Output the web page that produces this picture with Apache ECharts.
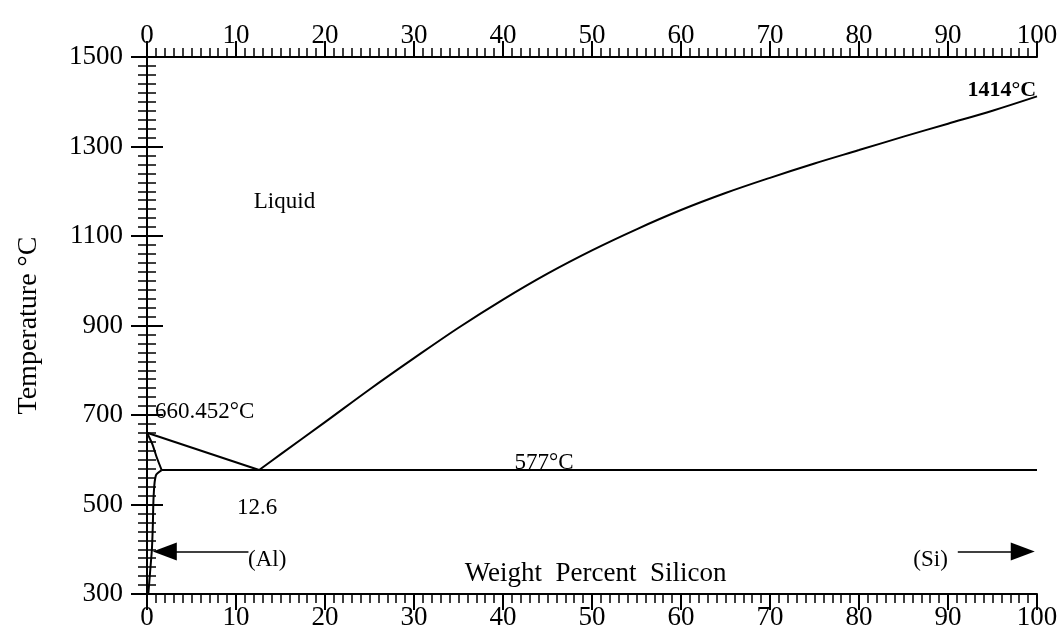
<!DOCTYPE html>
<html><head><meta charset="utf-8">
<script src="https://cdn.jsdelivr.net/npm/echarts@6/dist/echarts.min.js"></script>
<style>html,body{margin:0;padding:0;background:#fff}#c{width:1063px;height:639px}</style>
</head><body><div id="c"></div>
<script>
// Data (weight % Si, temperature °C)
const liquidusAl = [[0, 660.452], [12.6, 577]];
const liquidusSi = [[12.6, 577], [15, 612], [20, 684], [25, 757], [30, 827], [35, 895], [40, 958], [45, 1016], [50, 1068], [55, 1115], [60, 1158], [65, 1196], [70, 1230], [75, 1262], [80, 1292], [85, 1322], [90, 1351], [95, 1380], [100, 1412]];
const eutectic = [[1.65, 577], [100, 577]];
const solidusAl = [[0, 660.452], [0.6, 635], [1.1, 605], [1.65, 577]];
const solvusAl = [[1.65, 577], [1.0, 565], [0.75, 520], [0.65, 450], [0.55, 400], [0.35, 350], [0.15, 300]];
const xRange = [0, 100];
const yRange = [300, 1500];

const FONT = 'Liberation Serif';
const chart = echarts.init(document.getElementById('c'), null, {renderer: 'canvas'});

function lineSeries(data, smooth) {
  return {type: 'line', data: data, showSymbol: false, symbol: 'none', smooth: smooth,
    lineStyle: {color: '#000', width: 2}, silent: true, animation: false};
}
const axisLineStyle = {show: true, lineStyle: {color: '#000', width: 2}};
const plain = v => String(v);

const option = {
  animation: false,
  backgroundColor: '#fff',
  grid: {left: 147, right: 26, top: 57, bottom: 45},
  xAxis: [
    {type: 'value', position: 'bottom', min: xRange[0], max: xRange[1], interval: 10,
     axisLine: axisLineStyle, splitLine: {show: false},
     axisTick: {show: true, length: 16, lineStyle: {color: '#000', width: 2}},
     minorTick: {show: true, splitNumber: 10, length: 9, lineStyle: {color: '#000', width: 1.5}},
     axisLabel: {fontFamily: FONT, fontSize: 27, color: '#000', margin: 10, formatter: plain}},
    {type: 'value', position: 'top', min: xRange[0], max: xRange[1], interval: 10,
     axisLine: axisLineStyle, splitLine: {show: false},
     axisTick: {show: true, length: 16, lineStyle: {color: '#000', width: 2}},
     minorTick: {show: true, splitNumber: 10, length: 9, lineStyle: {color: '#000', width: 1.5}},
     axisLabel: {fontFamily: FONT, fontSize: 27, color: '#000', margin: 8, formatter: plain}}
  ],
  yAxis: [
    {type: 'value', position: 'left', min: yRange[0], max: yRange[1], interval: 200,
     axisLine: axisLineStyle, splitLine: {show: false},
     axisTick: {show: true, length: 16, lineStyle: {color: '#000', width: 2}},
     minorTick: {show: true, splitNumber: 10, length: 9, lineStyle: {color: '#000', width: 1.5}},
     axisLabel: {fontFamily: FONT, fontSize: 27, color: '#000', margin: 24, formatter: plain},
     name: 'Temperature °C', nameLocation: 'middle', nameRotate: 90, nameGap: 104,
     nameTextStyle: {fontFamily: FONT, fontSize: 28, color: '#000'}},
    {type: 'value', position: 'right', min: yRange[0], max: yRange[1], interval: 200,
     axisLine: axisLineStyle, splitLine: {show: false},
     axisTick: {show: true, length: 16, lineStyle: {color: '#000', width: 2}},
     minorTick: {show: true, splitNumber: 10, length: 9, lineStyle: {color: '#000', width: 1.5}},
     axisLabel: {show: false}}
  ],
  series: [
    lineSeries(liquidusAl, false),
    lineSeries(liquidusSi, 0.35),
    lineSeries(eutectic, false),
    lineSeries(solidusAl, 0.3),
    lineSeries(solvusAl, 0.3),
    {type: 'line', data: [], silent: true,
     markLine: {silent: true, symbol: ['none', 'triangle'], symbolSize: [18, 24],
       label: {show: false},
       lineStyle: {color: '#000', width: 1.5, type: 'solid'},
       data: [
         [{coord: [11.4, 395]}, {coord: [2.0, 395]}],
         [{coord: [91.1, 395]}, {coord: [98.4, 395]}]
       ]}}
  ]
};
chart.setOption(option);

// Text annotations anchored to data coordinates
const notes = [
  {t: 'Liquid', at: [12.0, 1177], align: 'left', size: 23, weight: 'normal'},
  {t: '660.452°C', at: [0.9, 707], align: 'left', size: 23, weight: 'normal'},
  {t: '12.6', at: [10.1, 493], align: 'left', size: 23, weight: 'normal'},
  {t: '577°C', at: [41.3, 592], align: 'left', size: 23, weight: 'normal'},
  {t: '1414°C', at: [99.9, 1426], align: 'right', size: 22, weight: 'bold'},
  {t: '(Al)', at: [11.35, 377], align: 'left', size: 23, weight: 'normal'},
  {t: '(Si)', at: [86.1, 377], align: 'left', size: 23, weight: 'normal'},
  {t: 'Weight  Percent  Silicon', at: [50.4, 344], align: 'center', size: 27, weight: 'normal'}
];
const graphics = notes.map(n => {
  const p = chart.convertToPixel({xAxisIndex: 0, yAxisIndex: 0}, n.at);
  return {type: 'text', x: p[0], y: p[1], silent: true,
    style: {text: n.t, fontFamily: FONT, fontSize: n.size, fontWeight: n.weight,
      fill: '#000', align: n.align, verticalAlign: 'middle'}};
});
chart.setOption({graphic: graphics});
</script>
</body></html>
